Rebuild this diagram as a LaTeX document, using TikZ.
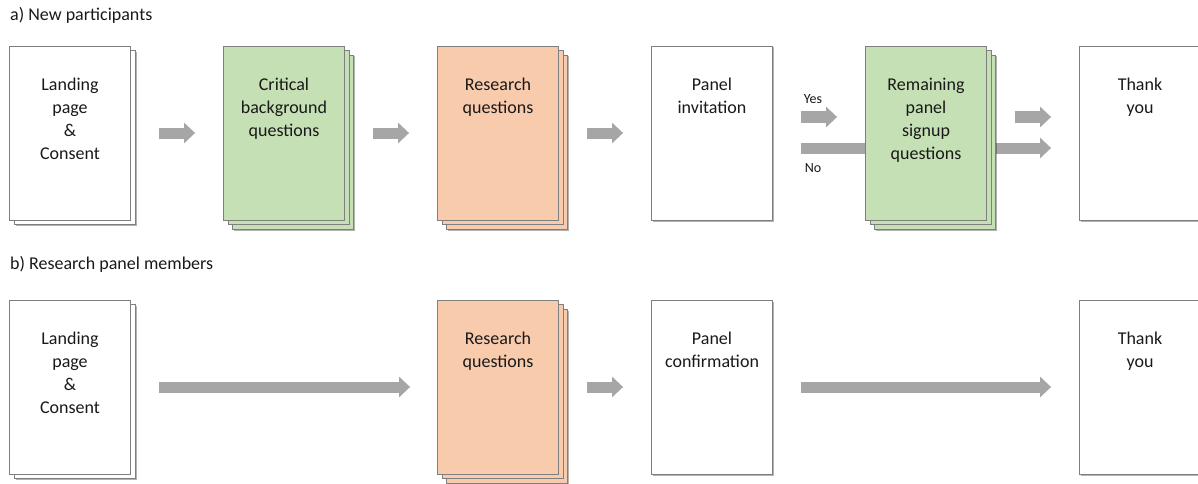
\documentclass[tikz,border=0pt]{standalone}
\usepackage{fontspec}
\setmainfont{Carlito}
\usetikzlibrary{arrows.meta,shadows,backgrounds}
\newcommand{\s}{214}
\definecolor{sheetgreen}{HTML}{C5E0B4}
\definecolor{sheetorange}{HTML}{F8CBAD}
\definecolor{arrowgrey}{HTML}{A6A6A6}
\definecolor{edgegrey}{HTML}{7F7F7F}

\begin{document}
\begin{tikzpicture}[x=1pt, y=-1pt,
    every node/.style={font=\fontsize{18}{23}\selectfont, text=black!90},
    sheetbase/.style={draw=edgegrey, line width=0.8pt, minimum width=121pt, minimum height=174pt, inner sep=0pt},
    sheet/.style={sheetbase, drop shadow={shadow xshift=1.5pt, shadow yshift=-1.5pt, draw=none, fill=black, opacity=.3}},
    onestack/.style={sheetbase, drop shadow={shadow xshift=6pt, shadow yshift=-6pt, draw=none, fill=black, opacity=.3},
        copy shadow={shadow xshift=4.5pt, shadow yshift=-4.5pt}},
    stack/.style={sheetbase, drop shadow={shadow xshift=10.5pt, shadow yshift=-10.5pt, draw=none, fill=black, opacity=.3},
        double copy shadow={shadow xshift=4.5pt, shadow yshift=-4.5pt}},
    txt/.style={label={[anchor=north, yshift=-32pt, align=center, inner sep=0pt]north:#1}},
    bigarrow/.style={draw=arrowgrey, line width=11pt, -{Triangle[width=20pt, length=11pt]}},
    small/.style={font=\fontsize{14}{16}\selectfont}]
    \useasboundingbox (0,0) rectangle (1198,484);
    \clip (0,0) rectangle (1198,484);

    % a) New participants
    \node[anchor=west, inner sep=0pt] (title-a) at (10,15) {a) New participants};
    \node[onestack, fill=white, txt={Landing\\page\\\&\\Consent}] (land-a) at (70+0*\s,133) {};
    \node[stack, fill=sheetgreen, txt={Critical\\background\\questions}] (crit-a) at (70+1*\s,133) {};
    \node[stack, fill=sheetorange, txt={Research\\questions}] (resq-a) at (70+2*\s,133) {};
    \node[sheet, fill=white, txt={Panel\\invitation}] (inv-a) at (70+3*\s,133) {};
    \node[stack, fill=sheetgreen, txt={Remaining\\panel\\signup\\questions}] (rem-a) at (70+4*\s,133) {};
    \node[sheet, fill=white, txt={Thank\\you}] (thx-a) at (70+5*\s,133) {};

    \draw[bigarrow] ([xshift=28pt]land-a.east) -- ([xshift=-28pt]crit-a.west);
    \draw[bigarrow] ([xshift=28pt]crit-a.east) -- ([xshift=-28pt]resq-a.west);
    \draw[bigarrow] ([xshift=28pt]resq-a.east) -- ([xshift=-28pt]inv-a.west);
    \draw[bigarrow] ([shift={(28,-16)}]inv-a.east) -- ([shift={(-28,-16)}]rem-a.west);
    \draw[bigarrow] ([shift={(28,-16)}]rem-a.east) -- ([shift={(-28,-16)}]thx-a.west);
    \begin{scope}[on background layer]
        \draw[bigarrow] ([shift={(28,15)}]inv-a.east) -- ([shift={(-28,15)}]thx-a.west);
    \end{scope}
    \node[small] (yes) at (813,99) {Yes};
    \node[small] (no) at (813,168) {No};

    % b) Research panel members
    \node[anchor=west, inner sep=0pt] (title-b) at (10,264) {b) Research panel members};
    \node[onestack, fill=white, txt={Landing\\page\\\&\\Consent}] (land-b) at (70+0*\s,387) {};
    \node[stack, fill=sheetorange, txt={Research\\questions}] (resq-b) at (70+2*\s,387) {};
    \node[sheet, fill=white, txt={Panel\\confirmation}] (conf-b) at (70+3*\s,387) {};
    \node[sheet, fill=white, txt={Thank\\you}] (thx-b) at (70+5*\s,387) {};

    \draw[bigarrow] ([xshift=28pt]land-b.east) -- ([xshift=-27pt]resq-b.west);
    \draw[bigarrow] ([xshift=28pt]resq-b.east) -- ([xshift=-28pt]conf-b.west);
    \draw[bigarrow] ([xshift=28pt]conf-b.east) -- ([xshift=-28pt]thx-b.west);
\end{tikzpicture}
\end{document}
